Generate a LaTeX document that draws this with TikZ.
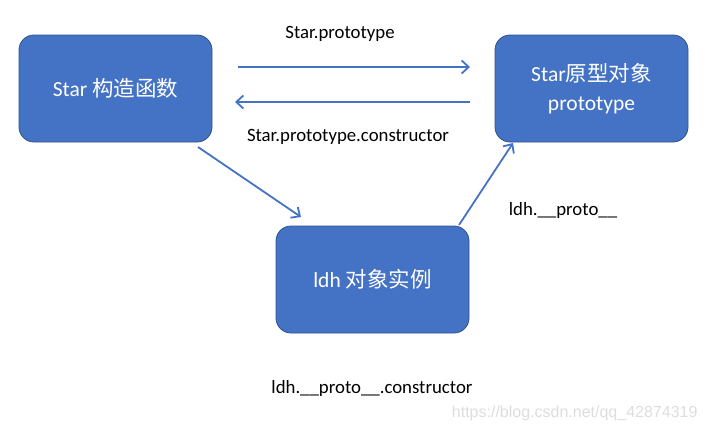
\documentclass[tikz,border=0pt]{standalone}
\usepackage{fontspec}
\setmainfont{Carlito}
\newfontfamily\cjk{Noto Sans CJK SC}
\usetikzlibrary{arrows.meta}
\definecolor{boxblue}{HTML}{4472C4}
\definecolor{boxedge}{HTML}{2F528F}
\definecolor{wm}{HTML}{DDDDDD}
\begin{document}
\begin{tikzpicture}[x=1pt,y=-1pt,
  blockbox/.style={draw=boxedge, line width=0.8pt, fill=boxblue, rounded corners=15pt,
    minimum width=193pt, minimum height=107pt, text=white, align=center,
    font=\fontsize{21.5}{29}\selectfont},
  link/.style={draw=boxblue, line width=1.8pt, -{Straight Barb[length=7pt,width=13pt,line width=1.8pt]}},
  lbl/.style={font=\fontsize{18.8}{22}\selectfont, text=black}]
\useasboundingbox (0,0) rectangle (710,431);
\node[blockbox] (star) at (115.5,88.5) {Star {\cjk 构造函数}};
\node[blockbox] (proto) at (591.5,88.5) {Star{\cjk 原型对象}\\prototype};
\node[blockbox] (ldh) at (372.5,279.5) {ldh {\cjk 对象实例}};
\coordinate (a1s) at (238,67); \coordinate (a1e) at (470,67);
\coordinate (a2s) at (470,102); \coordinate (a2e) at (235,102);
\coordinate (a3s) at (198,147); \coordinate (a3e) at (301,217);
\coordinate (a4s) at (459,225); \coordinate (a4e) at (513,143);
\draw[link] (a1s) -- (a1e);
\draw[link] (a2s) -- (a2e);
\draw[link] (a3s) -- (a3e);
\draw[link] (a4s) -- (a4e);
\node[lbl] (l1) at (340,34) {Star.prototype};
\node[lbl] (l2) at (348,137) {Star.prototype.constructor};
\node[lbl] (l3) at (563,210) {ldh.\_\_proto\_\_};
\node[lbl] (l4) at (372,388) {ldh.\_\_proto\_\_.constructor};
\node[font=\fontsize{16}{19}\selectfont\fontspec{Liberation Sans}, text=wm, anchor=east] (wmk) at (701,413) {https://blog.csdn.net/qq\_42874319};
\end{tikzpicture}
\end{document}
